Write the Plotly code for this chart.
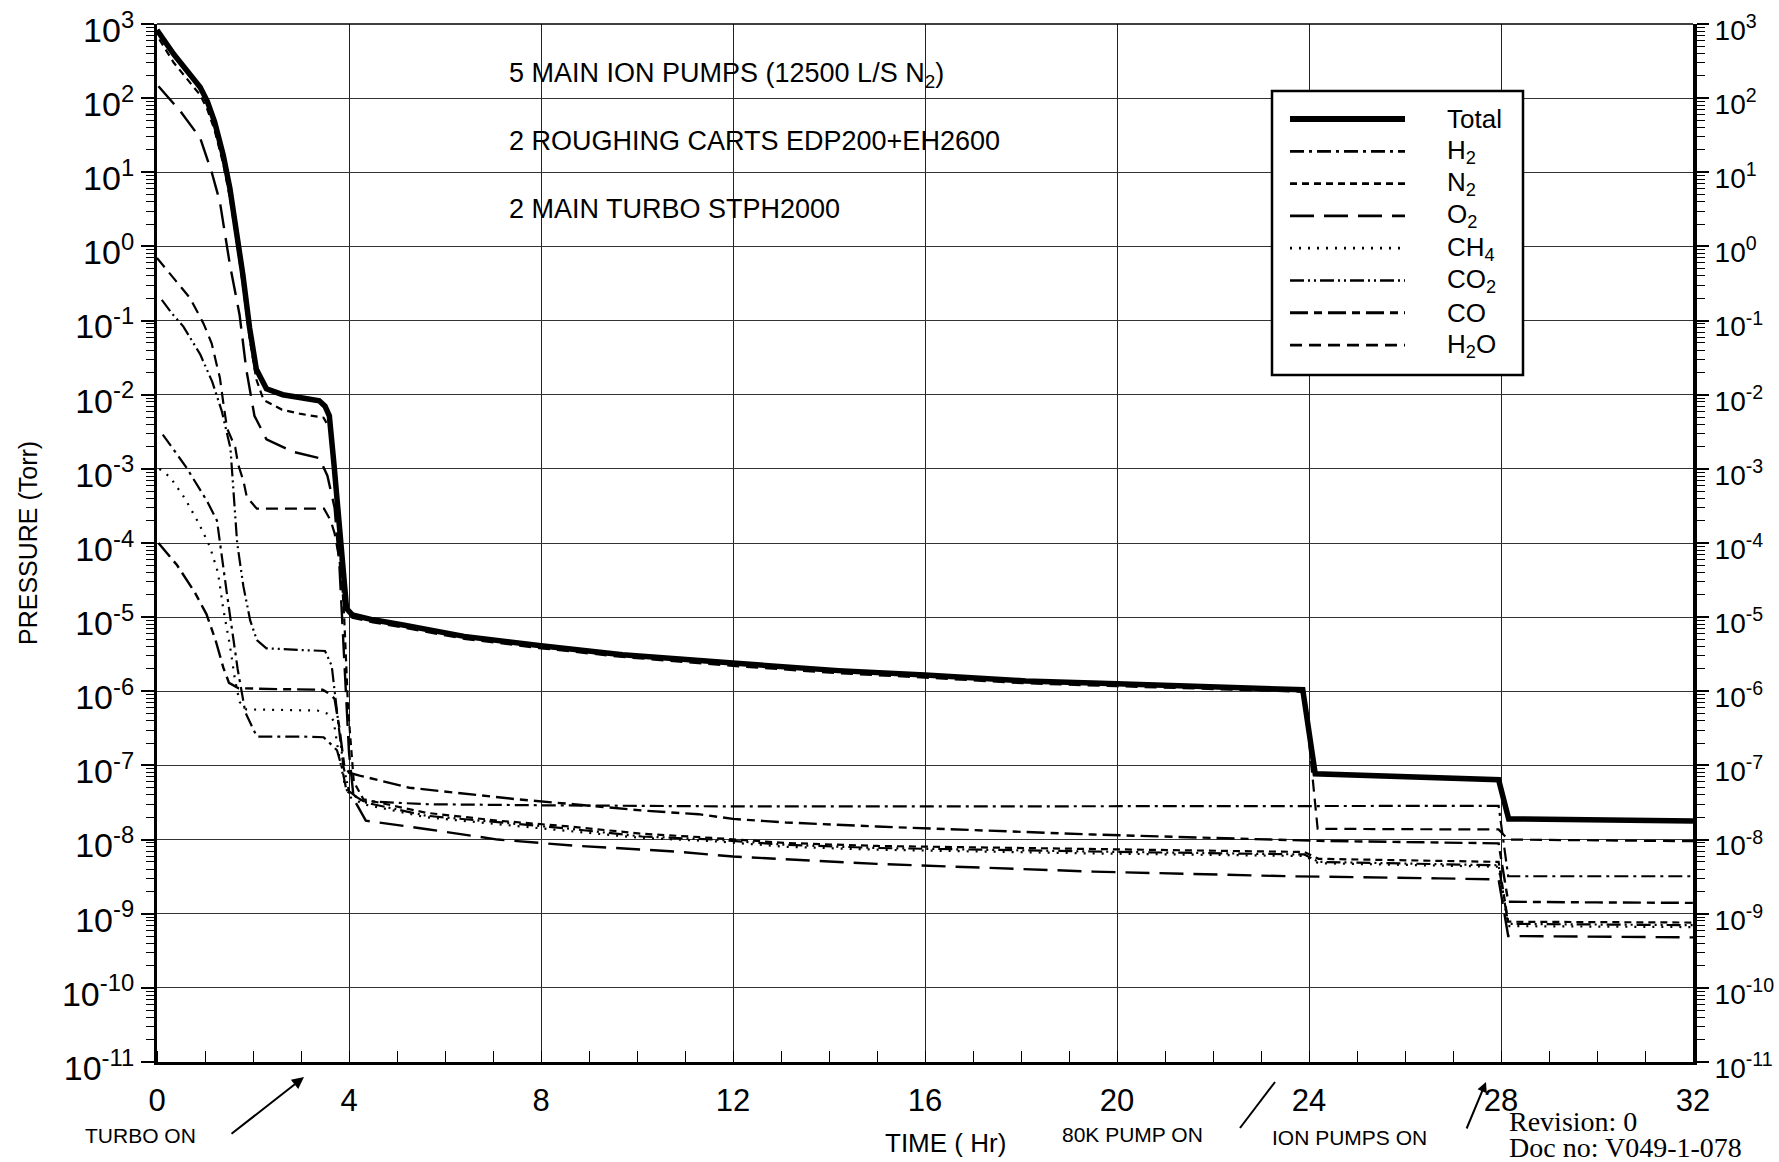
import plotly.graph_objects as go

# ---------------- data ----------------
t_total = [0.0, 0.35, 0.9, 1.05, 1.2, 1.38, 1.52, 1.66, 1.79, 1.93, 2.07, 2.28, 2.62, 3.0, 3.38, 3.5,
           3.59, 3.69, 3.79, 3.87, 3.95, 4.07, 4.5, 5.1, 6.4, 8.0, 9.7, 12.0, 14.2, 16.0, 18.1, 20.0,
           22.0, 23.8, 23.87, 24.13, 26.0, 27.9, 27.95, 28.16, 30.0, 32.0]
p_total = [8.3e2, 3.9e2, 1.4e2, 9.0e1, 4.8e1, 1.7e1, 6.0, 1.6, 4.1e-1, 7.9e-2, 2.2e-2, 1.2e-2, 1.0e-2,
           9.1e-3, 8.3e-3, 7.0e-3, 5.2e-3, 1.1e-3, 1.9e-4, 3.5e-5, 1.3e-5, 1.07e-5, 9.2e-6, 7.9e-6,
           5.5e-6, 4.1e-6, 3.1e-6, 2.4e-6, 1.9e-6, 1.66e-6, 1.38e-6, 1.26e-6, 1.15e-6, 1.07e-6,
           1.05e-6, 7.7e-8, 7.1e-8, 6.6e-8, 6.4e-8, 1.9e-8, 1.82e-8, 1.78e-8]

t_h2 = [0.12, 0.61, 1.04, 1.25, 1.46, 1.68, 1.84, 2.08, 3.0, 3.47, 3.6, 3.75, 3.85, 3.95, 4.3, 5.6,
        8.0, 12.0, 16.0, 20.0, 24.0, 27.95, 28.15, 30.0, 32.0]
p_h2 = [2.9e-3, 1.05e-3, 3.7e-4, 2.0e-4, 2.0e-5, 2.0e-6, 5.2e-7, 2.45e-7, 2.45e-7, 2.4e-7, 2.0e-7,
        1.6e-7, 9.5e-8, 4.5e-8, 3.3e-8, 3.0e-8, 2.9e-8, 2.8e-8, 2.8e-8, 2.8e-8, 2.8e-8, 2.85e-8,
        3.2e-9, 3.2e-9, 3.2e-9]

t_n2 = [0.05, 0.35, 0.9, 1.05, 1.2, 1.38, 1.52, 1.66, 1.79, 1.93, 2.07, 2.22, 2.6, 3.0, 3.47, 3.6,
        3.69, 3.8, 3.9, 3.98, 4.1, 4.3, 5.6, 7.1, 8.6, 10.1, 11.6, 13.1, 15.0, 19.5, 23.9, 24.2,
        26.7, 27.95, 28.15, 30.0, 32.0]
p_n2 = [6.2e2, 3.0e2, 1.1e2, 7.0e1, 3.7e1, 1.3e1, 4.5, 1.2, 3.0e-1, 5.8e-2, 1.6e-2, 8.5e-3, 6.3e-3,
        5.5e-3, 4.9e-3, 3.5e-3, 8.0e-4, 1.2e-4, 1.0e-5, 6.0e-7, 6.0e-8, 3.5e-8, 2.3e-8, 1.8e-8,
        1.5e-8, 1.2e-8, 1.05e-8, 9.0e-9, 8.2e-9, 7.4e-9, 6.8e-9, 5.5e-9, 5.2e-9, 5.0e-9, 7.8e-10,
        7.7e-10, 7.6e-10]

t_o2 = [0.03, 0.49, 0.9, 1.14, 1.31, 1.52, 1.72, 1.86, 2.03, 2.28, 2.83, 3.38, 3.55, 3.7, 3.8, 3.9,
        4.0, 4.1, 4.35, 5.63, 7.1, 8.67, 10.8, 12.0, 15.0, 19.5, 23.6, 26.7, 27.95, 28.15, 30.0, 32.0]
p_o2 = [1.45e2, 6.6e1, 2.9e1, 1.0e1, 4.0, 5.6e-1, 1.2e-1, 2.2e-2, 5.2e-3, 2.5e-3, 1.7e-3, 1.4e-3,
        8.1e-4, 3.0e-4, 5.0e-5, 3.0e-6, 1.5e-7, 3.5e-8, 1.8e-8, 1.38e-8, 1.0e-8, 8.3e-9, 6.9e-9,
        5.9e-9, 4.7e-9, 3.7e-9, 3.2e-9, 3.0e-9, 2.9e-9, 5.0e-10, 4.9e-10, 4.8e-10]

t_ch4 = [0.05, 0.27, 0.58, 0.86, 1.1, 1.27, 1.38, 1.52, 1.62, 1.72, 1.86, 2.5, 3.34, 3.55, 3.68,
         3.78, 3.9, 4.0, 4.3, 5.6, 7.1, 8.6, 10.1, 11.6, 13.1, 15.0, 19.5, 23.9, 24.2, 26.7, 27.95,
         28.15, 30.0, 32.0]
p_ch4 = [1.0e-3, 7.8e-4, 4.0e-4, 1.9e-4, 9.0e-5, 4.0e-5, 1.3e-5, 4.1e-6, 1.5e-6, 7.2e-7, 5.7e-7,
         5.6e-7, 5.5e-7, 5.0e-7, 4.0e-7, 1.5e-7, 6.0e-8, 3.8e-8, 3.0e-8, 2.0e-8, 1.6e-8, 1.3e-8,
         1.05e-8, 9.5e-9, 8.0e-9, 7.3e-9, 6.5e-9, 6.0e-9, 4.8e-9, 4.4e-9, 4.3e-9, 6.8e-10,
         6.7e-10, 6.6e-10]

t_co2 = [0.1, 0.31, 0.55, 0.9, 1.15, 1.35, 1.53, 1.67, 1.8, 1.94, 2.08, 2.28, 3.0, 3.5, 3.64, 3.75,
         3.88, 4.0, 4.3, 5.6, 7.1, 8.6, 10.1, 11.6, 13.1, 15.0, 19.5, 23.9, 24.2, 26.7, 27.95, 28.15,
         30.0, 32.0]
p_co2 = [1.9e-1, 1.25e-1, 8.3e-2, 3.5e-2, 1.5e-2, 6.0e-3, 1.9e-3, 1.0e-4, 2.6e-5, 9.1e-6, 4.9e-6,
         3.8e-6, 3.6e-6, 3.5e-6, 2.2e-6, 5.0e-7, 1.0e-7, 4.5e-8, 3.2e-8, 2.1e-8, 1.7e-8, 1.4e-8,
         1.1e-8, 1.0e-8, 8.5e-9, 7.7e-9, 6.9e-9, 6.3e-9, 5.0e-9, 4.6e-9, 4.5e-9, 7.3e-10, 7.1e-10,
         7.0e-10]

t_co = [0.03, 0.42, 0.78, 1.03, 1.22, 1.38, 1.5, 1.7, 2.5, 3.45, 3.62, 3.7, 3.8, 3.9, 4.0, 4.22,
        5.26, 6.45, 7.49, 8.67, 10.16, 11.28, 12.0, 13.1, 15.0, 19.5, 23.6, 24.2, 27.95, 28.15,
        30.0, 32.0]
p_co = [1.0e-4, 5.0e-5, 2.2e-5, 1.1e-5, 4.9e-6, 2.1e-6, 1.3e-6, 1.1e-6, 1.07e-6, 1.05e-6, 9.0e-7,
        7.9e-7, 3.2e-7, 1.0e-7, 8.0e-8, 7.3e-8, 5.0e-8, 4.1e-8, 3.5e-8, 3.0e-8, 2.45e-8, 2.2e-8,
        1.9e-8, 1.7e-8, 1.5e-8, 1.17e-8, 1.0e-8, 9.6e-9, 8.9e-9, 1.45e-9, 1.42e-9, 1.4e-9]

t_h2o = [0.0, 0.35, 0.69, 0.97, 1.14, 1.24, 1.31, 1.38, 1.46, 1.63, 1.69, 1.8, 1.87, 2.08, 2.5,
         3.48, 3.62, 3.7, 3.8, 3.9, 4.07, 4.5, 5.1, 6.4, 8.0, 9.7, 12.0, 14.2, 16.0, 18.1, 20.0,
         22.0, 23.8, 23.9, 24.18, 26.0, 27.95, 28.15, 30.0, 32.0]
p_h2o = [7.0e-1, 3.7e-1, 2.0e-1, 9.1e-2, 4.9e-2, 2.6e-2, 1.7e-2, 7.9e-3, 3.5e-3, 1.95e-3, 1.15e-3,
         6.9e-4, 4.2e-4, 2.9e-4, 2.9e-4, 2.9e-4, 2.0e-4, 1.35e-4, 6.0e-5, 1.4e-5, 9.8e-6, 8.5e-6,
         7.3e-6, 5.1e-6, 3.8e-6, 2.9e-6, 2.2e-6, 1.75e-6, 1.53e-6, 1.28e-6, 1.17e-6, 1.07e-6,
         9.9e-7, 9.5e-7, 1.4e-8, 1.38e-8, 1.37e-8, 1.0e-8, 9.8e-9, 9.5e-9]

series_names = ["Total", "H<sub>2</sub>", "N<sub>2</sub>", "O<sub>2</sub>", "CH<sub>4</sub>",
                "CO<sub>2</sub>", "CO", "H<sub>2</sub>O"]
x_ticks = [0, 4, 8, 12, 16, 20, 24, 28, 32]
y_decades = list(range(-11, 4))

# ---------------- styling ----------------
series_data = [(t_total, p_total), (t_h2, p_h2), (t_n2, p_n2), (t_o2, p_o2), (t_ch4, p_ch4),
               (t_co2, p_co2), (t_co, p_co), (t_h2o, p_h2o)]
dashes = ["solid", "14px,5px,3px,5px", "7px,5px", "24px,10px", "2px,7px",
          "14px,4px,2px,4px,2px,4px", "18px,6px,8px,6px", "12px,7px"]
widths = [5.5, 2.2, 2.2, 2.4, 2.2, 2.2, 2.4, 2.2]

W, H = 1779, 1162
ML, MR, MT, MB = 157, 86, 24, 100
PW, PH = W - ML - MR, H - MT - MB
SANS = "Liberation Sans, Arial, Helvetica, sans-serif"
SERIF = "Liberation Serif, Times New Roman, serif"


def px(x):
    return (x - ML) / PW


def py(y):
    return (H - MB - y) / PH


fig = go.Figure()
order = [1, 2, 3, 4, 5, 6, 7, 0]
for i in order:
    tx, pv = series_data[i]
    fig.add_trace(go.Scatter(
        x=tx, y=pv, mode="lines", name=series_names[i], showlegend=False,
        line=dict(color="black", width=widths[i], dash=dashes[i]),
        hoverinfo="skip"))
# invisible companion trace so the right-hand axis is drawn
fig.add_trace(go.Scatter(x=t_total, y=p_total, yaxis="y2", mode="lines", showlegend=False,
                         line=dict(color="rgba(0,0,0,0)"), hoverinfo="skip"))

tickvals_y = [10.0 ** d for d in y_decades]
ticktext_y = [f"10<sup>{d}</sup>" for d in y_decades]
minor_y = [k * 10.0 ** d for d in y_decades[:-1] for k in range(2, 10)]

yaxis_common = dict(
    type="log", range=[-11, 3], tickmode="array", tickvals=tickvals_y, ticktext=ticktext_y,
    ticks="outside", tickwidth=1.5, tickcolor="black",
    ticklabelshift=6, automargin=False,
    minor=dict(tickmode="array", tickvals=minor_y, ticks="outside", ticklen=8, tickwidth=1,
               tickcolor="black", showgrid=False),
    showline=True, linecolor="black", zeroline=False,
)

fig.update_layout(
    width=W, height=H,
    margin=dict(l=ML, r=MR, t=MT, b=MB, pad=0, autoexpand=False),
    paper_bgcolor="white", plot_bgcolor="white",
    showlegend=False,
    xaxis=dict(range=[0, 32], tickmode="array", tickvals=x_ticks, ticktext=[str(v) for v in x_ticks],
               ticks="", tickfont=dict(family=SANS, size=31, color="black"),
               ticklabelstandoff=9, automargin=False,
               showgrid=True, gridcolor="#222", gridwidth=1.2,
               showline=True, linecolor="black", linewidth=3, zeroline=False,
               minor=dict(dtick=1, tick0=0, ticks="inside", ticklen=11, tickwidth=1.3,
                          tickcolor="black", showgrid=False)),
    yaxis=dict(**yaxis_common, ticklen=13, tickfont=dict(family=SANS, size=34, color="black"),
               linewidth=3, showgrid=True, gridcolor="#333", gridwidth=1),
    yaxis2=dict(**yaxis_common, ticklen=12, tickfont=dict(family=SANS, size=28, color="black"),
                overlaying="y", side="right", linewidth=4, showgrid=False),
)

shapes = []
shapes.append(dict(type="line", xref="paper", yref="paper", x0=0, x1=1, y0=1, y1=1,
                   line=dict(color="black", width=1.5), layer="above"))
# legend box drawn as shapes so the line samples match the reference length
shapes.append(dict(type="rect", xref="paper", yref="paper", x0=px(1272), x1=px(1523),
                   y0=py(375), y1=py(91), fillcolor="white",
                   line=dict(color="black", width=2.5), layer="above"))
annotations = []
for i, name in enumerate(series_names):
    yy = py(119 + i * 32.3)
    shapes.append(dict(type="line", xref="paper", yref="paper", x0=px(1290), x1=px(1405),
                       y0=yy, y1=yy, layer="above",
                       line=dict(color="black", width=widths[i] + (0.5 if i else 0.5), dash=dashes[i])))
    annotations.append(dict(xref="paper", yref="paper", x=px(1445), y=yy, text=name,
                            showarrow=False, xanchor="left", yanchor="middle",
                            font=dict(family=SANS, size=26, color="black")))

for txt, ypx in [("5 MAIN ION PUMPS (12500 L/S N<sub>2</sub>)", 75),
                 ("2 ROUGHING CARTS EDP200+EH2600", 141),
                 ("2 MAIN TURBO STPH2000", 209)]:
    annotations.append(dict(xref="paper", yref="paper", x=px(507), y=py(ypx), text=txt,
                            showarrow=False, xanchor="left", yanchor="middle",
                            font=dict(family=SANS, size=27, color="black")))

annotations.append(dict(xref="paper", yref="paper", x=px(28), y=py(543), text="PRESSURE (Torr)",
                        textangle=-90, showarrow=False, xanchor="center", yanchor="middle",
                        font=dict(family=SANS, size=25, color="black")))
annotations.append(dict(xref="paper", yref="paper", x=px(945), y=py(1143), text="TIME ( Hr)",
                        showarrow=False, xanchor="center", yanchor="middle",
                        font=dict(family=SANS, size=26, color="black")))

for txt, xpx, ypx in [("TURBO ON", 140, 1135), ("80K PUMP ON", 1132, 1134),
                      ("ION PUMPS ON", 1349, 1137)]:
    annotations.append(dict(xref="paper", yref="paper", x=px(xpx), y=py(ypx), text=txt,
                            showarrow=False, xanchor="center", yanchor="middle",
                            font=dict(family=SANS, size=21, color="black")))

annotations.append(dict(xref="paper", yref="paper", x=px(304), y=py(1077), text="",
                        showarrow=True, arrowhead=2, arrowsize=1.2, arrowwidth=2,
                        arrowcolor="black", ax=230 - 304, ay=1135 - 1077))
annotations.append(dict(xref="paper", yref="paper", x=px(1486), y=py(1082), text="",
                        showarrow=True, arrowhead=2, arrowsize=1.0, arrowwidth=2,
                        arrowcolor="black", ax=1466 - 1486, ay=1130 - 1082))
shapes.append(dict(type="line", xref="paper", yref="paper", x0=px(1240), y0=py(1128),
                   x1=px(1275), y1=py(1082), line=dict(color="black", width=2)))

annotations.append(dict(xref="paper", yref="paper", x=px(1507), y=py(1121), text="Revision: 0",
                        showarrow=False, xanchor="left", yanchor="middle",
                        font=dict(family=SERIF, size=28, color="black")))
annotations.append(dict(xref="paper", yref="paper", x=px(1507), y=py(1147),
                        text="Doc no: V049-1-078", showarrow=False, xanchor="left",
                        yanchor="middle", font=dict(family=SERIF, size=28, color="black")))

fig.update_layout(shapes=shapes, annotations=annotations)

fig.write_html("out.html", config={"displayModeBar": False},
               post_script="document.body.style.margin='0';document.body.style.overflow='hidden';")
